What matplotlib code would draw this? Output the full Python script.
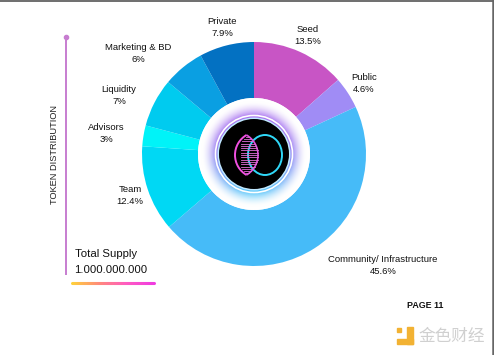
import numpy as np
import matplotlib.pyplot as plt
from matplotlib.patches import Circle, Arc, Ellipse, Rectangle
from matplotlib.collections import LineCollection
from matplotlib.colors import LinearSegmentedColormap

# token distribution (clockwise from 12 o'clock)
labels = ["Seed", "Public", "Community/ Infrastructure", "Team", "Advisors",
          "Liquidity", "Marketing & BD", "Private"]
shares = [13.5, 4.6, 45.6, 12.4, 3, 7, 6, 7.9]
pct_text = ["13.5%", "4.6%", "45.6%", "12.4%", "3%", "7%", "6%", "7.9%"]
colors = ["#C855C5", "#A08CF5", "#46BBF8", "#00D8F4", "#00F3F8",
          "#00CBEF", "#0A9FE2", "#0371C2"]
# label centres in pixel coords (x, y from top)
label_pos = [(308, 29), (364, 77), (383, 259), (130, 190), (106, 127),
             (119, 89), (138, 47), (222, 22)]

total_supply = "1.000.000.000"

W, H = 494, 355
fig = plt.figure(figsize=(W / 100, H / 100), dpi=100)
ax = fig.add_axes([0, 0, 1, 1])


def Y(py):
    return H - py


font = "Liberation Sans"
cx, cy = 254, Y(154)
R, r_hole = 112, 56

# donut
ax.pie(shares, colors=colors, startangle=90, counterclock=False,
       center=(cx, cy), radius=R, frame=True,
       wedgeprops=dict(width=R - r_hole, linewidth=0))
ax.set_xlim(0, W)
ax.set_ylim(0, H)
ax.set_aspect("equal")
ax.axis("off")

# glow in the hole
n = 200
gx = np.linspace(cx - r_hole, cx + r_hole, n)
gy = np.linspace(cy - r_hole, cy + r_hole, n)
XX, YY = np.meshgrid(gx, gy)
rr = np.hypot(XX - cx, YY - cy)
ang = np.arctan2(YY - cy, XX - cx)
t = np.clip((53 - rr) / 15, 0, 1) ** 1.8
purple = np.array([0.66, 0.45, 0.94])
blue = np.array([0.35, 0.78, 0.98])
mix = ((1 - np.sin(ang)) / 2)[..., None] ** 2
tint = purple * (1 - mix) + blue * mix
img = np.ones((n, n, 3)) * (1 - t[..., None]) + tint * t[..., None]
im = ax.imshow(img, extent=(gx[0], gx[-1], gy[0], gy[-1]), origin="lower",
               zorder=2, interpolation="bilinear")
im.set_clip_path(Circle((cx, cy), r_hole, transform=ax.transData))

ax.add_patch(Circle((cx, cy), 38.5, facecolor="none", edgecolor="white",
                    lw=1.2, zorder=3))
ax.add_patch(Circle((cx, cy), 36.5, facecolor="#BFE8FF", edgecolor="none",
                    zorder=3))
ax.add_patch(Circle((cx, cy), 35, facecolor="black", edgecolor="none",
                    zorder=4))

# logo: magenta lens with stripes + cyan ring
ly = Y(155)
lr, lc_l, lc_r = 23.1, 258.1, 234.9
ax.add_patch(Ellipse((265, ly), 34, 40, facecolor="none",
                     edgecolor="#30D8F8", lw=1.4, zorder=5))
ax.add_patch(Arc((lc_l, ly), 2 * lr, 2 * lr, theta1=120, theta2=240,
                 color="#F050E0", lw=1.4, zorder=6))
ax.add_patch(Arc((lc_r, ly), 2 * lr, 2 * lr, theta1=-60, theta2=60,
                 color="#E050E0", lw=1.2, zorder=6))
for dy in np.arange(-18.4, 19, 2.3):
    s = np.sqrt(lr ** 2 - dy ** 2)
    xl = max(241, lc_l - s + 2)
    xr = lc_r + s
    if xr > xl:
        ax.plot([xl, xr], [ly + dy, ly + dy], color="#E070D8", lw=0.6,
                zorder=6)

# labels
for name, pct, (px, py) in zip(labels, pct_text, label_pos):
    ax.text(px, Y(py), name, ha="center", va="center", fontsize=6.8,
            family=font, color="#111111")
    ax.text(px, Y(py + 12), pct, ha="center", va="center", fontsize=6.8,
            family=font, color="#111111")

# side bar
ax.plot([66, 66], [Y(37), Y(275)], color="#C77DD0", lw=1.4,
        solid_capstyle="butt")
ax.plot([66], [Y(37)], "o", color="#C77DD0", ms=3)
ax.text(54, Y(155), "TOKEN DISTRIBUTION", rotation=90, ha="center",
        va="center", fontsize=6.7, family=font, color="#222222")

ax.text(75, Y(254), "Total Supply", ha="left", va="center", fontsize=8.2,
        family=font, color="#111111")
ax.text(74, Y(270), total_supply, ha="left", va="center", fontsize=8.2,
        family=font, color="#111111")

# gradient underline
xs = np.linspace(72, 154, 80)
segs = [[(xs[i], Y(283)), (xs[i + 1], Y(283))] for i in range(len(xs) - 1)]
cmap = LinearSegmentedColormap.from_list(
    "ul", ["#FFD23A", "#FF8A7A", "#FF5CC0", "#F03CE0"])
lc = LineCollection(segs, colors=cmap(np.linspace(0, 1, len(segs))),
                    linewidths=2.2, capstyle="round")
ax.add_collection(lc)

ax.text(425, Y(305), "PAGE 11", ha="center", va="center",
        fontsize=6.4, family=font, color="#111111", fontweight="bold")

# watermark
ax.add_patch(Rectangle((397, Y(332)), 4, 4, color="#F2B233", zorder=5))
ax.add_patch(Rectangle((397, Y(344)), 16, 5, color="#F2B233", zorder=5))
ax.add_patch(Rectangle((407, Y(344)), 6, 17, color="#F2B233", zorder=5))
ax.text(418, Y(336), "金色财经", ha="left", va="center", fontsize=12,
        family=["Noto Sans CJK SC", "DejaVu Sans"], color="#D0D0D0")

# frame edges
ax.plot([0, W], [H - 0.7, H - 0.7], color="#555555", lw=1.2)
ax.plot([W - 1.2, W - 1.2], [0, H], color="#666666", lw=1.8)

fig.savefig("out.png", dpi=100)
